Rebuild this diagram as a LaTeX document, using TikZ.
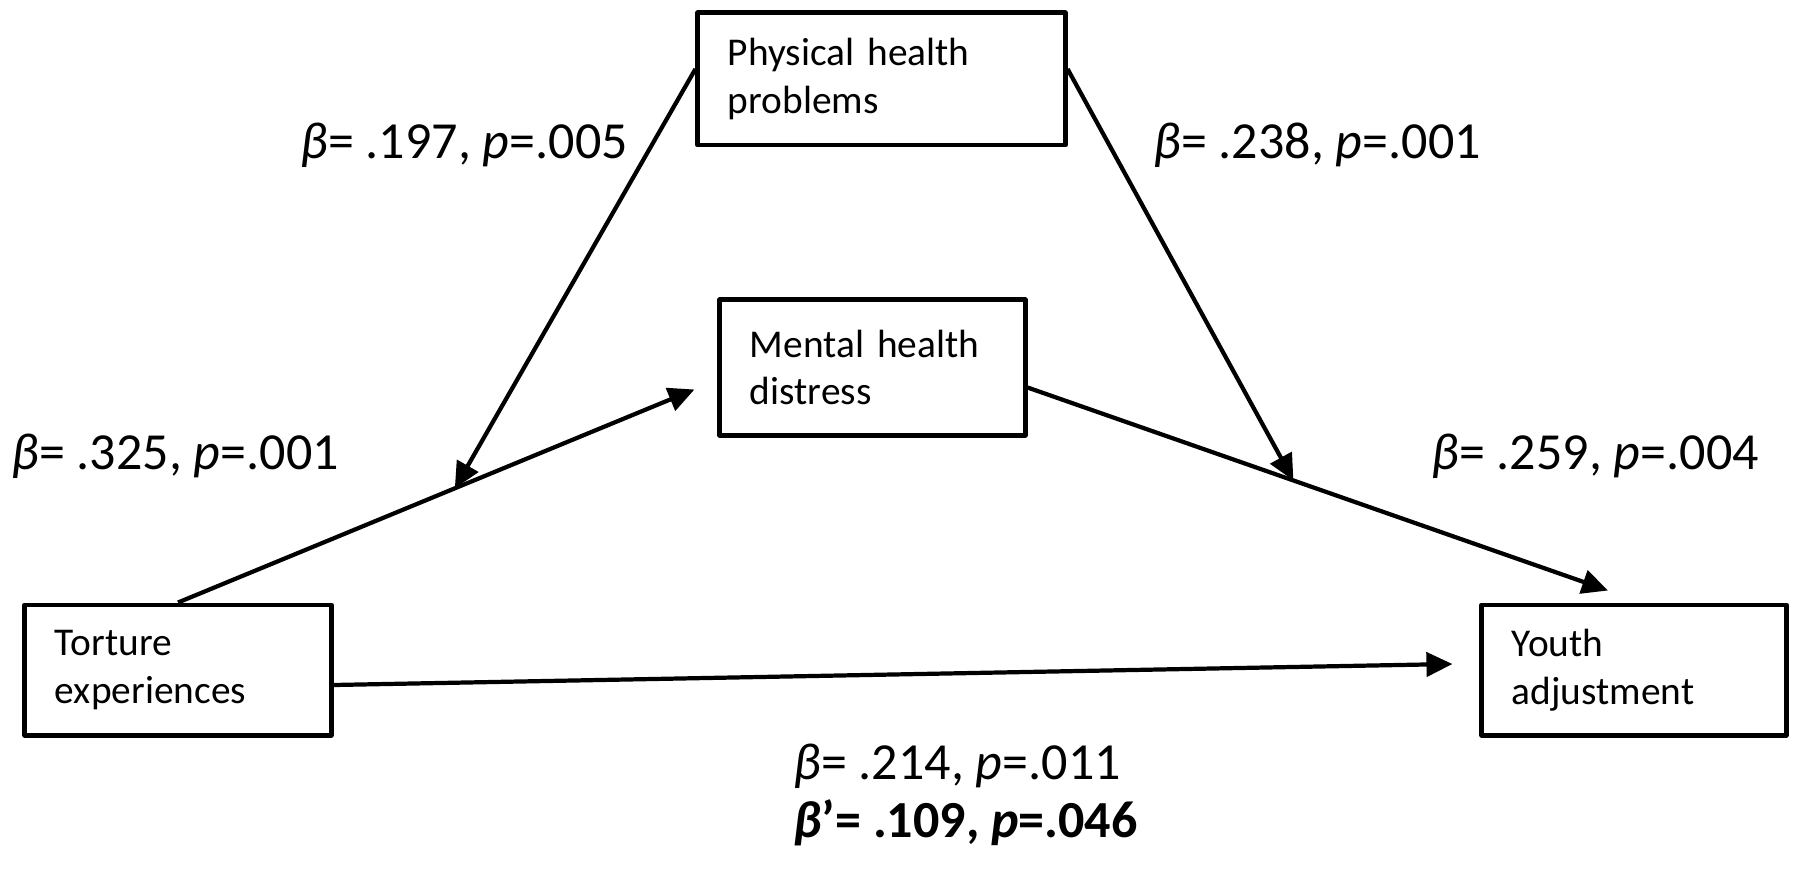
\documentclass[tikz,border=0pt]{standalone}
\usepackage{fontspec}
\setmainfont{Carlito}
\usetikzlibrary{arrows.meta}

\begin{document}
\begin{tikzpicture}[x=0.01cm, y=-0.01cm, font=\fontsize{11.2}{13.6}\selectfont,
	box/.style={draw, line width=1.4pt, align=left, inner xsep=0.3cm, inner ysep=0pt, line join=round},
	lbl/.style={anchor=base west, inner sep=0pt, font=\fontsize{14.8}{17.8}\selectfont},
	arr/.style={-{Triangle[length=0.26cm, width=0.24cm]}, line width=1.2pt}]
	\useasboundingbox (0,0) rectangle (1800,873);
	
	% Boxes
	\node[box, text width=3.07cm, minimum height=1.32cm] (phys) at (881.5,79) {Physical health\\problems};
	\node[box, text width=2.45cm, minimum height=1.35cm] (ment) at (872.5,367.5) {Mental health\\distress};
	\node[box, text width=2.46cm, minimum height=1.30cm] (tort) at (178,670) {Torture\\experiences};
	\node[box, text width=2.44cm, minimum height=1.30cm] (youth) at (1634,670) {Youth\\adjustment};
	
	% Arrows
	\coordinate (tipA) at ([shift={(-23,22)}]ment.west);
	\coordinate (tipB) at ([shift={(-26,-12)}]youth.north);
	\draw[arr] (tort.north) -- (tipA) coordinate[pos=0.536] (hitA);
	\draw[arr] ([shift={(0,20)}]ment.east) -- (tipB) coordinate[pos=0.458] (hitB);
	\draw[arr] ([shift={(0,-10)}]phys.west) -- (hitA);
	\draw[arr] ([shift={(0,-10)}]phys.east) -- (hitB);
	\draw[arr] ([shift={(0,15)}]tort.east) -- ([shift={(-27,-6)}]youth.west);
	
	% Coefficients
	\node[lbl] (l1) at (300,159) {\textit{β}= .197, \textit{p}=.005};
	\node[lbl] (l2) at (1153,159) {\textit{β}= .238, \textit{p}=.001};
	\node[lbl] (l3) at (11,469) {\textit{β}= .325, \textit{p}=.001};
	\node[lbl] (l4) at (1431,469) {\textit{β}= .259, \textit{p}=.004};
	\node[lbl] (l5) at (793,779) {\textit{β}= .214, \textit{p}=.011};
	\node[lbl] (l6) at (793,837) {\textbf{\textit{β}’= .109, \textit{p}=.046}};
	
\end{tikzpicture}
\end{document}
